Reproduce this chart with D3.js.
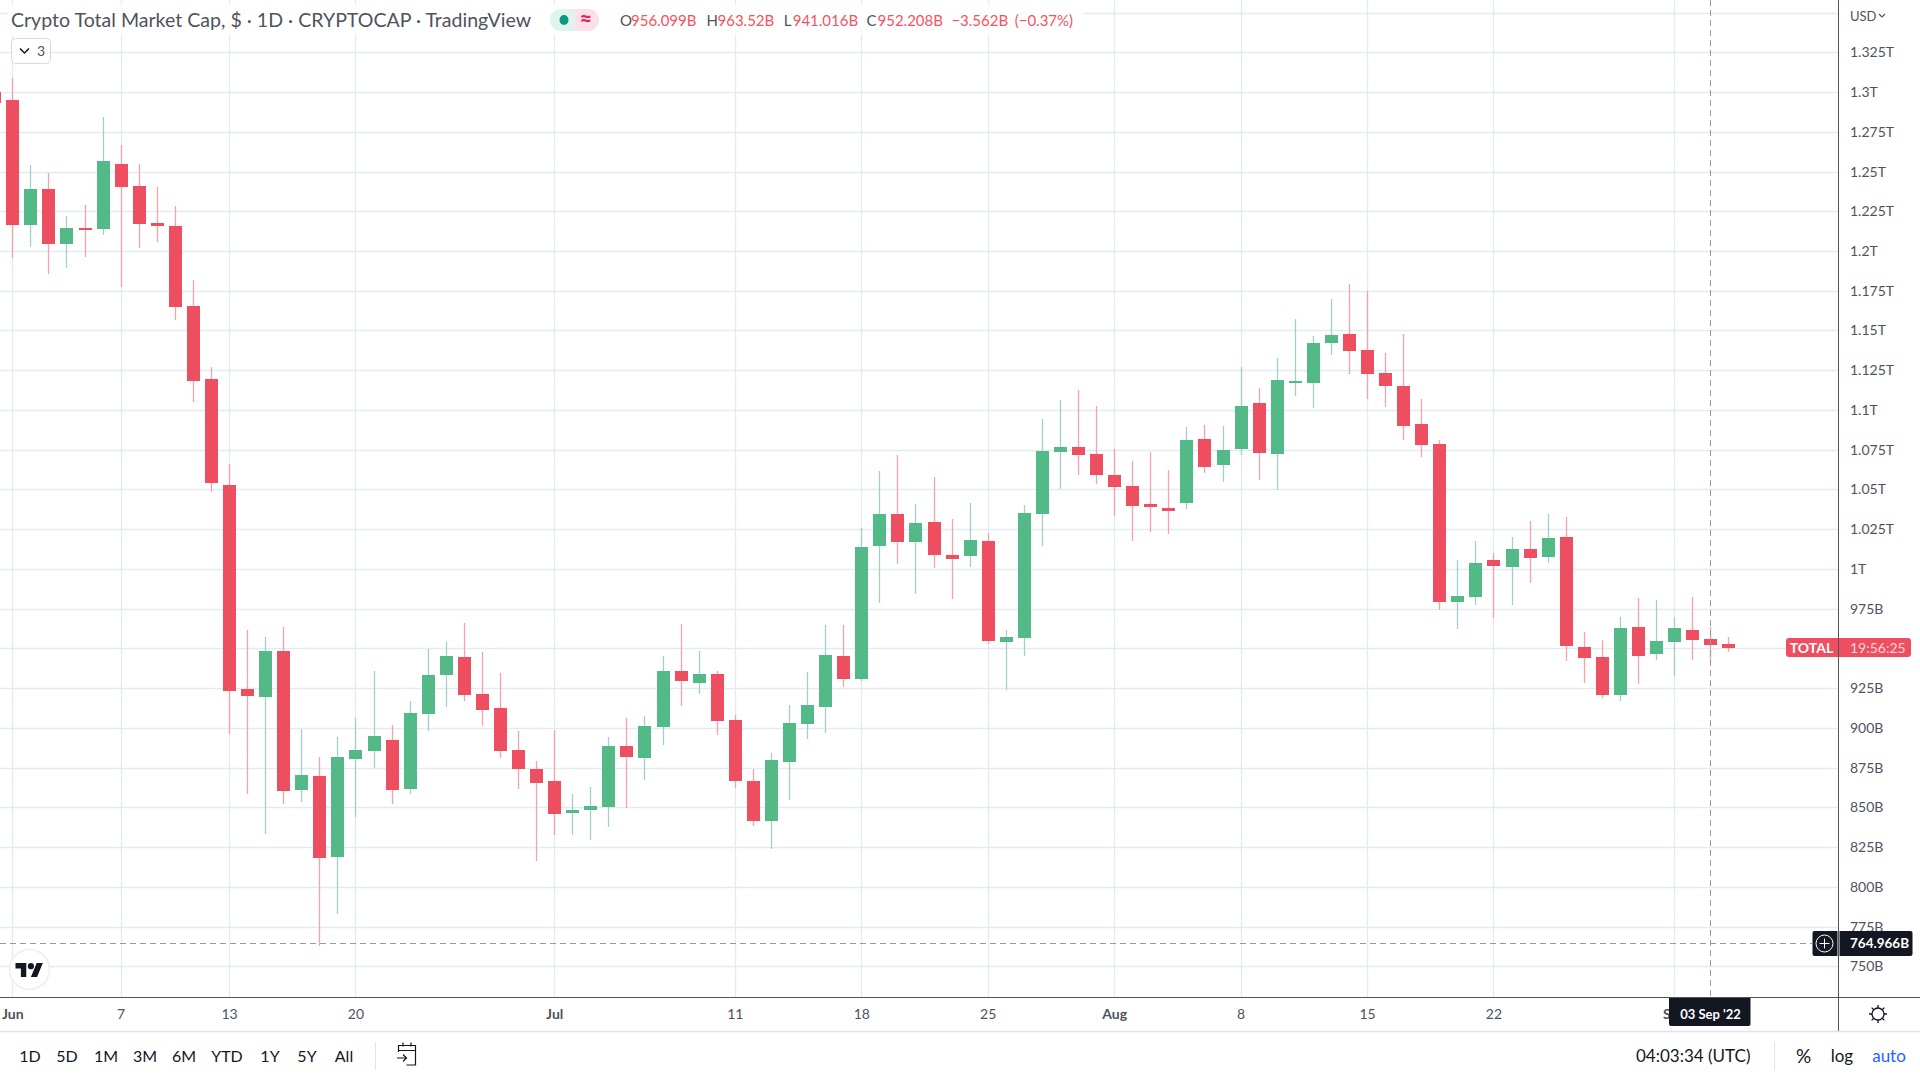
<!DOCTYPE html>
<html>
<head>
<meta charset="utf-8">
<script src="https://cdn.jsdelivr.net/npm/d3@7"></script>
<style>
  html, body { margin: 0; padding: 0; background: #fff; overflow: hidden; }
  text { font-family: Lato, "Open Sans", sans-serif; }
</style>
</head>
<body>
<script>
// values in billions of USD, one candle per day starting 31 May 2022
let firstDay = '2022-05-31';
let opens = [1300.3,1295.0,1216.4,1239.0,1204.4,1214.5,1213.9,1254.8,1240.9,1217.6,1215.7,1165.4,1119.5,1052.8,924.5,919.4,948.4,860.9,869.7,818.8,880.4,885.5,892.4,861.6,908.7,933.3,944.6,921.3,912.5,886.1,874.1,866.6,846.5,848.4,850.2,888.6,881.1,900.6,935.8,928.2,933.9,905.0,866.6,841.4,878.5,902.4,913.2,945.2,930.8,1014.4,1034.6,1017.0,1029.5,1008.8,1008.2,1017.6,954.0,956.6,1034.6,1073.6,1076.7,1072.3,1059.1,1052.2,1040.9,1038.3,1041.5,1081.8,1065.4,1075.5,1104.4,1072.3,1117.0,1117.0,1142.1,1147.8,1137.7,1123.3,1115.1,1091.2,1078.6,979.2,982.4,1005.6,1001.2,1012.5,1007.5,1020.1,950.9,944.6,920.7,963.5,946.5,954.0,961.6,956.1,952.8];
let highs = [1303.0,1308.8,1254.1,1249.1,1222.0,1229.0,1284.3,1266.7,1254.8,1240.3,1228.3,1181.8,1127.0,1066.0,961.6,957.2,963.5,899.3,881.7,894.3,906.2,935.8,901.8,916.9,949.6,954.0,966.0,947.8,934.5,898.1,879.2,898.7,858.4,862.8,894.3,906.2,907.5,945.2,965.4,948.4,935.8,908.1,874.1,884.2,914.4,935.2,964.7,964.7,1025.8,1061.6,1071.7,1040.9,1057.8,1031.4,1041.5,1022.6,961.6,1040.2,1094.3,1106.3,1112.6,1102.5,1075.5,1067.9,1073.6,1062.3,1089.3,1090.6,1089.9,1127.0,1113.8,1132.7,1157.2,1146.5,1169.8,1179.3,1174.9,1135.9,1147.8,1106.9,1081.1,1005.6,1017.6,1010.0,1020.1,1030.2,1034.6,1032.7,960.3,955.3,969.8,981.7,980.5,969.8,982.4,963.5,957.2];
let lows = [1290.0,1195.6,1202.7,1185.5,1189.3,1196.2,1210.1,1177.4,1201.9,1205.7,1156.6,1105.0,1048.4,896.2,858.4,833.3,852.1,853.4,762.8,782.9,843.9,874.8,852.1,858.4,898.1,913.2,916.9,901.2,881.1,861.6,816.3,832.6,832.6,829.5,837.7,849.6,867.2,889.2,913.8,921.3,895.5,862.2,838.3,823.8,854.6,893.0,896.8,925.7,929.5,978.6,1003.1,984.2,1000.6,981.1,1001.2,952.8,923.8,945.2,1014.4,1050.3,1059.1,1053.4,1033.3,1017.6,1023.2,1022.0,1037.7,1060.4,1054.7,1071.7,1056.0,1049.7,1108.8,1101.3,1134.6,1122.6,1106.9,1101.9,1081.1,1070.4,974.2,962.2,977.3,969.1,977.3,991.2,1003.7,942.1,928.2,918.8,916.9,927.6,942.7,932.7,942.7,941.0,947.8];
let closes = [1292.9,1216.4,1239.0,1204.4,1214.5,1213.2,1256.6,1240.3,1217.0,1215.7,1164.8,1118.2,1054.1,923.2,920.1,948.4,860.3,870.4,818.2,881.7,886.1,894.9,860.9,909.4,933.3,945.2,920.7,911.3,885.5,874.1,865.3,845.8,848.4,850.9,888.6,881.7,901.2,935.8,929.5,933.9,904.3,866.6,841.4,879.8,903.1,914.4,945.9,930.8,1013.8,1034.6,1017.0,1028.9,1008.8,1006.3,1018.2,954.7,957.2,1035.2,1074.2,1076.7,1071.7,1059.1,1051.6,1039.6,1039.0,1036.5,1081.1,1064.1,1074.8,1102.5,1072.9,1118.9,1118.2,1142.1,1147.2,1137.1,1122.6,1115.1,1089.9,1078.0,979.2,983.0,1003.7,1001.9,1012.5,1006.9,1019.5,951.5,944.0,920.7,962.9,945.2,954.7,962.9,955.3,952.2,950.3];

let yTicks = [1350,1325,1300,1275,1250,1225,1200,1175,1150,1125,1100,1075,1050,1025,1000,975,950,925,900,875,850,825,800,775,750];
let yLabels = ['','1.325T','1.3T','1.275T','1.25T','1.225T','1.2T','1.175T','1.15T','1.125T','1.1T','1.075T','1.05T','1.025T','1T','975B','','925B','900B','875B','850B','825B','800B','775B','750B'];
let xTicks = ['2022-06-01','2022-06-07','2022-06-13','2022-06-20','2022-07-01','2022-07-11','2022-07-18','2022-07-25','2022-08-01','2022-08-08','2022-08-15','2022-08-22','2022-09-01'];
let xLabels = ['Jun','7','13','20','Jul','11','18','25','Aug','8','15','22','Sep'];
let rangeButtons = ['1D','5D','1M','3M','6M','YTD','1Y','5Y','All'];
let rangeButtonX = [30,67,106,145,184,227,270,307,344];
let legendItems = [['O','956.099B',620],['H','963.52B',706.5],['L','941.016B',783.7],['C','952.208B',866.5]];
let crossDay = '2022-09-03';
let crossValue = 764.966;
let lastValue = 950.3;

let width = 1920, height = 1080;
let paneRight = 1838.5, paneBottom = 997.5, footerTop = 1031.5;
let red = '#ee4f60', green = '#53b987', textGrey = '#50535e', dark = '#131722', gridColor = '#e1ecf2';

let parse = d3.utcParse('%Y-%m-%d');
let days = opens.map((d, i) => d3.utcDay.offset(parse(firstDay), i));
let candles = days.map((day, i) => ({day, o: opens[i], h: highs[i], l: lows[i], c: closes[i]}));

let x = d3.scaleUtc().domain([parse('2022-06-01'), parse('2022-09-03')]).range([12.3, 1710.2]);
let y = d3.scaleLinear().domain([1325, 750]).range([52.3, 966.3]);

let svg = d3.select('body').append('svg')
    .attr('width', width).attr('height', height)
    .style('display', 'block');
svg.append('rect').attr('width', width).attr('height', height).attr('fill', '#fff');
svg.append('clipPath').attr('id', 'pane').append('rect')
    .attr('width', paneRight).attr('height', paneBottom);

let pane = svg.append('g').attr('clip-path', 'url(#pane)');

// grid
pane.selectAll('.hgrid').data(yTicks).enter().append('line')
    .attr('x1', 0).attr('x2', paneRight)
    .attr('y1', d => Math.round(y(d)) + 0.5).attr('y2', d => Math.round(y(d)) + 0.5)
    .attr('stroke', gridColor).attr('stroke-width', 1.3);
pane.selectAll('.vgrid').data(xTicks).enter().append('line')
    .attr('y1', 0).attr('y2', paneBottom)
    .attr('x1', d => Math.round(x(parse(d))) + 0.5).attr('x2', d => Math.round(x(parse(d))) + 0.5)
    .attr('stroke', gridColor).attr('stroke-width', 1.3);

// candles
pane.selectAll('.wick').data(candles).enter().append('line')
    .attr('x1', d => Math.round(x(d.day)) + 0.5).attr('x2', d => Math.round(x(d.day)) + 0.5)
    .attr('y1', d => y(d.h)).attr('y2', d => y(d.l))
    .attr('stroke', d => d.c >= d.o ? '#a3cfcb' : '#f7a1ae')
    .attr('stroke-width', 1.3);
pane.selectAll('.body').data(candles).enter().append('rect')
    .attr('x', d => Math.round(x(d.day)) - 6)
    .attr('width', 13)
    .attr('y', d => y(Math.max(d.o, d.c)))
    .attr('height', d => Math.max(1, Math.abs(y(d.o) - y(d.c))))
    .attr('fill', d => d.c >= d.o ? green : red)
    .attr('shape-rendering', 'crispEdges');

// crosshair
let crossX = Math.round(x(parse(crossDay))) + 0.5;
let crossY = Math.round(y(crossValue)) + 0.5;
pane.append('line').attr('x1', crossX).attr('x2', crossX).attr('y1', 0).attr('y2', paneBottom)
    .attr('stroke', '#9598a1').attr('stroke-dasharray', '6 4');
pane.append('line').attr('x1', 0).attr('x2', 1812).attr('y1', crossY).attr('y2', crossY)
    .attr('stroke', '#9598a1').attr('stroke-dasharray', '6 4');

// axes
let yAxis = d3.axisRight(y)
    .tickValues(yTicks.filter((d, i) => yLabels[i]))
    .tickFormat(d => yLabels[yTicks.indexOf(d)])
    .tickSize(0).tickPadding(0);
let yAxisG = svg.append('g').attr('transform', `translate(1850,0)`).call(yAxis);
yAxisG.select('.domain').remove();
yAxisG.selectAll('text').attr('font-size', 14).attr('fill', textGrey).attr('x', 0);

let xAxis = d3.axisBottom(x)
    .tickValues(xTicks.map(parse))
    .tickFormat((d, i) => xLabels[i])
    .tickSize(0).tickPadding(0);
let xAxisG = svg.append('g').attr('transform', `translate(0,1006)`).call(xAxis);
xAxisG.select('.domain').remove();
xAxisG.selectAll('text')
    .attr('font-size', 14).attr('fill', textGrey).attr('y', 0).attr('dy', '0.9em')
    .attr('font-weight', (d, i) => /[A-Za-z]/.test(xLabels[i]) ? 700 : 400);

svg.append('line').attr('x1', 0).attr('x2', width).attr('y1', paneBottom).attr('y2', paneBottom).attr('stroke', textGrey).attr('stroke-width', 1);
svg.append('line').attr('x1', paneRight).attr('x2', paneRight).attr('y1', 0).attr('y2', footerTop).attr('stroke', textGrey).attr('stroke-width', 1);
svg.append('line').attr('x1', 0).attr('x2', width).attr('y1', footerTop).attr('y2', footerTop).attr('stroke', '#e0e3eb').attr('stroke-width', 1.5);

// legend strip
svg.append('rect').attr('x', 8).attr('y', 4).attr('width', 1075).attr('height', 31).attr('fill', '#fff').attr('opacity', 0.8);
svg.append('text').attr('x', 11).attr('y', 27).attr('font-size', 19).attr('fill', '#50535e')
    .attr('textLength', 520).attr('lengthAdjust', 'spacingAndGlyphs')
    .text('Crypto Total Market Cap, $ · 1D · CRYPTOCAP · TradingView');

// status pill
svg.append('path').attr('d', 'M574.5 9H561a11 11 0 0 0 0 22h13.5z').attr('fill', '#dff3ef');
svg.append('path').attr('d', 'M574.5 9H588a11 11 0 0 1 0 22h-13.5z').attr('fill', '#fce0e8');
svg.append('ellipse').attr('cx', 564).attr('cy', 20).attr('rx', 4.5).attr('ry', 5).attr('fill', '#089981');
svg.append('text').attr('x', 586).attr('y', 27).attr('text-anchor', 'middle').attr('font-size', 22).attr('font-weight', 700).attr('fill', '#e91e63').text('≈');

// OHLC readout
let legendText = svg.selectAll('.ohlc').data(legendItems).enter().append('g');
legendText.append('text').attr('x', d => d[2]).attr('y', 26).attr('font-size', 15).attr('fill', textGrey).text(d => d[0]);
legendText.append('text').attr('x', d => d[2] + (d[0] === 'L' ? 9 : 11)).attr('y', 26).attr('font-size', 15).attr('fill', '#f7525f').text(d => d[1]);
svg.append('text').attr('x', 951.4).attr('y', 26).attr('font-size', 15).attr('fill', '#f7525f').text('−3.562B');
svg.append('text').attr('x', 1014.7).attr('y', 26).attr('font-size', 15).attr('fill', '#f7525f').text('(−0.37%)');

// collapse button
svg.append('rect').attr('x', 11.5).attr('y', 38.5).attr('width', 39).attr('height', 25).attr('rx', 4)
    .attr('fill', '#fff').attr('stroke', '#d6d8e0');
svg.append('path').attr('d', 'M20 48.5l4.5 4.5 4.5-4.5').attr('fill', 'none').attr('stroke', dark).attr('stroke-width', 1.5);
svg.append('text').attr('x', 37).attr('y', 56).attr('font-size', 14).attr('fill', textGrey).text('3');

// currency
svg.append('text').attr('x', 1850).attr('y', 21).attr('font-size', 13).attr('fill', textGrey).text('USD');
svg.append('path').attr('d', 'M1879 14l3 3 3-3').attr('fill', 'none').attr('stroke', textGrey).attr('stroke-width', 1.2);

// price label of the series
svg.append('path').attr('d', 'M1838 638h-49a3 3 0 0 0-3 3v13a3 3 0 0 0 3 3h49z').attr('fill', red);
svg.append('text').attr('x', 1811.5).attr('y', y(lastValue) + 0.5).attr('dy', '0.35em').attr('text-anchor', 'middle').attr('font-size', 14).attr('font-weight', 700).attr('fill', '#fff').text('TOTAL');
svg.append('path').attr('d', 'M1839 638h69a3 3 0 0 1 3 3v13a3 3 0 0 1-3 3h-69z').attr('fill', red);
svg.append('text').attr('x', 1850).attr('y', y(lastValue) + 0.5).attr('dy', '0.35em').attr('font-size', 14).attr('fill', '#fcd5da').text('19:56:25');

// crosshair labels
svg.append('path').attr('d', 'M1837.5 931h-23a2 2 0 0 0-2 2v21a2 2 0 0 0 2 2h23z').attr('fill', dark);
svg.append('circle').attr('cx', 1824.5).attr('cy', crossY).attr('r', 8.5).attr('fill', 'none').attr('stroke', '#fff');
svg.append('path').attr('d', `M1819.5 ${crossY}h10M1824.5 ${crossY - 5}v10`).attr('stroke', '#fff');
svg.append('path').attr('d', 'M1839.5 931h71a2 2 0 0 1 2 2v21a2 2 0 0 1-2 2h-71z').attr('fill', dark);
svg.append('text').attr('x', 1850).attr('y', crossY).attr('dy', '0.35em').attr('font-size', 13.5).attr('font-weight', 700).attr('fill', '#fff').text('764.966B');

svg.append('path').attr('d', 'M1669 998h81.5v26a2 2 0 0 1-2 2h-77.5a2 2 0 0 1-2-2z').attr('fill', dark);
svg.append('text').attr('x', crossX).attr('y', 1014).attr('dy', '0.35em').attr('text-anchor', 'middle').attr('font-size', 13).attr('font-weight', 700).attr('fill', '#fff').text("03 Sep '22");

// TradingView mark
svg.append('circle').attr('cx', 29.5).attr('cy', 969.5).attr('r', 20).attr('fill', '#fff').attr('stroke', '#eceef2').attr('stroke-width', 1.5);
let mark = svg.append('g').attr('transform', 'translate(15.5,960) scale(0.77)');
mark.append('path').attr('d', 'M14 22H7V11H0V4h14v18zM28 22h-8l7.5-18h8L28 22z').attr('fill', dark);
mark.append('circle').attr('cx', 20).attr('cy', 8).attr('r', 4).attr('fill', dark);

// bottom toolbar
svg.selectAll('.range').data(rangeButtons).enter().append('text')
    .attr('x', (d, i) => rangeButtonX[i]).attr('y', 1056).attr('dy', '0.35em')
    .attr('text-anchor', 'middle').attr('font-size', 16).attr('fill', dark).text(d => d);
svg.append('line').attr('x1', 375.5).attr('x2', 375.5).attr('y1', 1042).attr('y2', 1070).attr('stroke', '#e0e3eb');
svg.append('path')
    .attr('d', 'M398.5 1052v-6.5h17v19.5h-9M398.5 1050.5h17M403 1042.5v4M411 1042.5v4M397 1058h9M403 1054.5l3.5 3.5-3.5 3.5')
    .attr('fill', 'none').attr('stroke', dark).attr('stroke-width', 1.2);
svg.append('text').attr('x', 1636).attr('y', 1056).attr('dy', '0.35em').attr('font-size', 17).attr('fill', dark).text('04:03:34 (UTC)');
svg.append('line').attr('x1', 1774.5).attr('x2', 1774.5).attr('y1', 1042).attr('y2', 1070).attr('stroke', '#e0e3eb');
svg.append('text').attr('x', 1803.5).attr('y', 1056).attr('dy', '0.35em').attr('text-anchor', 'middle').attr('font-size', 19).attr('fill', dark).text('%');
svg.append('text').attr('x', 1842).attr('y', 1056).attr('dy', '0.35em').attr('text-anchor', 'middle').attr('font-size', 17).attr('fill', dark).text('log');
svg.append('text').attr('x', 1889).attr('y', 1056).attr('dy', '0.35em').attr('text-anchor', 'middle').attr('font-size', 17).attr('fill', '#2962ff').text('auto');

// settings gear
svg.append('circle').attr('cx', 1878).attr('cy', 1014).attr('r', 6).attr('fill', 'none').attr('stroke', dark).attr('stroke-width', 1.3);
svg.append('path')
    .attr('d', 'M1878 1005v3M1878 1020v3M1869 1014h3M1884 1014h3M1871.6 1007.6l2.2 2.2M1882.2 1018.2l2.2 2.2M1884.4 1007.6l-2.2 2.2M1873.8 1018.2l-2.2 2.2')
    .attr('stroke', dark).attr('stroke-width', 1.3);
</script>
</body>
</html>
